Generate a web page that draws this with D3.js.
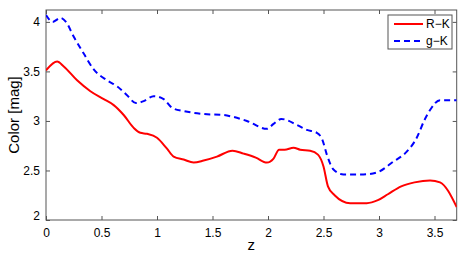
<!DOCTYPE html>
<html>
<head>
<meta charset="utf-8">
<script src="https://cdn.jsdelivr.net/npm/d3@7"></script>
<style>
  body { margin: 0; background: #fff; }
  svg { display: block; font-family: "Liberation Sans", Arial, sans-serif; }
</style>
</head>
<body>
<svg width="463" height="256"></svg>
<script>
// redshift grid and colours
const zR = [0, 0.1, 0.16, 0.28, 0.40, 0.52, 0.61, 0.70, 0.79, 0.85, 0.91, 1.00, 1.09, 1.15, 1.24, 1.33, 1.42, 1.54, 1.68, 1.78, 1.89, 1.99, 2.05, 2.10, 2.15, 2.23, 2.29, 2.38, 2.45, 2.50, 2.54, 2.60, 2.74, 2.89, 2.99, 3.08, 3.20, 3.32, 3.46, 3.55, 3.70];
const rK = [3.51, 3.60, 3.55, 3.41, 3.30, 3.22, 3.16, 3.06, 2.93, 2.88, 2.87, 2.83, 2.72, 2.64, 2.61, 2.58, 2.60, 2.64, 2.70, 2.67, 2.63, 2.58, 2.62, 2.71, 2.71, 2.73, 2.71, 2.70, 2.66, 2.54, 2.34, 2.25, 2.17, 2.17, 2.20, 2.26, 2.34, 2.38, 2.40, 2.38, 2.13];

const zG = [0, 0.06, 0.13, 0.18, 0.25, 0.34, 0.43, 0.55, 0.64, 0.73, 0.81, 0.88, 0.97, 1.06, 1.14, 1.24, 1.42, 1.60, 1.69, 1.81, 1.99, 2.05, 2.12, 2.26, 2.35, 2.44, 2.49, 2.53, 2.59, 2.68, 2.86, 2.98, 3.13, 3.25, 3.34, 3.41, 3.46, 3.55, 3.70];
const gK = [4.07, 4.00, 4.04, 4.00, 3.85, 3.68, 3.52, 3.41, 3.35, 3.26, 3.18, 3.20, 3.25, 3.22, 3.13, 3.10, 3.07, 3.06, 3.04, 3.00, 2.92, 2.97, 3.02, 2.96, 2.91, 2.88, 2.81, 2.66, 2.51, 2.46, 2.46, 2.48, 2.59, 2.69, 2.83, 3.01, 3.11, 3.21, 3.21];

const xTicks = [0, 0.5, 1, 1.5, 2, 2.5, 3, 3.5];
const yTicks = [2, 2.5, 3, 3.5, 4];
const seriesNames = ["R\u2212K", "g\u2212K"];

const svg = d3.select("svg");
const m = { left: 46, right: 456.7, top: 10, bottom: 220 };

const x = d3.scaleLinear().domain([0, 3.7]).range([m.left, m.right]);
const y = d3.scaleLinear().domain([2, 4.12]).range([m.bottom, m.top]);

svg.append("defs").append("clipPath").attr("id", "clip")
  .append("rect")
  .attr("x", m.left).attr("y", m.top)
  .attr("width", m.right - m.left).attr("height", m.bottom - m.top);

// axes, MATLAB style: ticks inward on all four sides
const tickLen = 4;
const axisColor = "#555";

function styleAxis(g) {
  g.select(".domain").remove();
  g.selectAll(".tick line").attr("stroke", axisColor);
  g.selectAll(".tick text").attr("fill", "#000").attr("font-size", "12px");
}

svg.append("g")
  .attr("transform", `translate(0,${m.bottom})`)
  .call(d3.axisBottom(x).tickValues(xTicks).tickSize(-tickLen).tickPadding(8).tickFormat(d3.format("")))
  .call(styleAxis);

svg.append("g")
  .attr("transform", `translate(0,${m.top})`)
  .call(d3.axisTop(x).tickValues(xTicks).tickSize(-tickLen).tickFormat(""))
  .call(styleAxis);

svg.append("g")
  .attr("transform", `translate(${m.left},0)`)
  .call(d3.axisLeft(y).tickValues(yTicks).tickSize(-tickLen).tickPadding(6).tickFormat(d3.format("")))
  .call(styleAxis)
  .call(g => g.selectAll(".tick text").filter(d => d === 2).attr("dy", "-0.05em"));

svg.append("g")
  .attr("transform", `translate(${m.right},0)`)
  .call(d3.axisRight(y).tickValues(yTicks).tickSize(-tickLen).tickFormat(""))
  .call(styleAxis);

svg.append("rect")
  .attr("x", m.left).attr("y", m.top)
  .attr("width", m.right - m.left).attr("height", m.bottom - m.top)
  .attr("fill", "none")
  .attr("stroke", axisColor)
  .attr("stroke-width", 1);

// curves
const line = d3.line()
  .x(d => x(d[0]))
  .y(d => y(d[1]))
  .curve(d3.curveMonotoneX);

const plot = svg.append("g").attr("clip-path", "url(#clip)");

plot.append("path")
  .datum(d3.zip(zR, rK))
  .attr("d", line)
  .attr("fill", "none")
  .attr("stroke", "#ff0000")
  .attr("stroke-width", 2);

plot.append("path")
  .datum(d3.zip(zG, gK))
  .attr("d", line)
  .attr("fill", "none")
  .attr("stroke", "#0000ff")
  .attr("stroke-width", 2)
  .attr("stroke-dasharray", "6,4");

// axis labels
svg.append("text")
  .attr("x", (m.left + m.right) / 2)
  .attr("y", 250)
  .attr("text-anchor", "middle")
  .attr("font-size", "15px")
  .text("z");

svg.append("text")
  .attr("transform", `translate(19,${(m.top + m.bottom) / 2}) rotate(-90)`)
  .attr("text-anchor", "middle")
  .attr("font-size", "15px")
  .text("Color [mag]");

// legend
const legend = svg.append("g").attr("transform", "translate(388,15)");
legend.append("rect")
  .attr("width", 64).attr("height", 34)
  .attr("fill", "#fff")
  .attr("stroke", axisColor);

const styles = [
  { color: "#ff0000", dash: null },
  { color: "#0000ff", dash: "6,4" }
];

seriesNames.forEach((name, i) => {
  const yy = 9 + i * 17;
  legend.append("line")
    .attr("x1", 6).attr("x2", 35)
    .attr("y1", yy).attr("y2", yy)
    .attr("stroke", styles[i].color)
    .attr("stroke-width", 2)
    .attr("stroke-dasharray", styles[i].dash);
  legend.append("text")
    .attr("x", 38).attr("y", yy)
    .attr("dy", "0.35em")
    .attr("font-size", "12px")
    .text(name);
});
</script>
</body>
</html>
